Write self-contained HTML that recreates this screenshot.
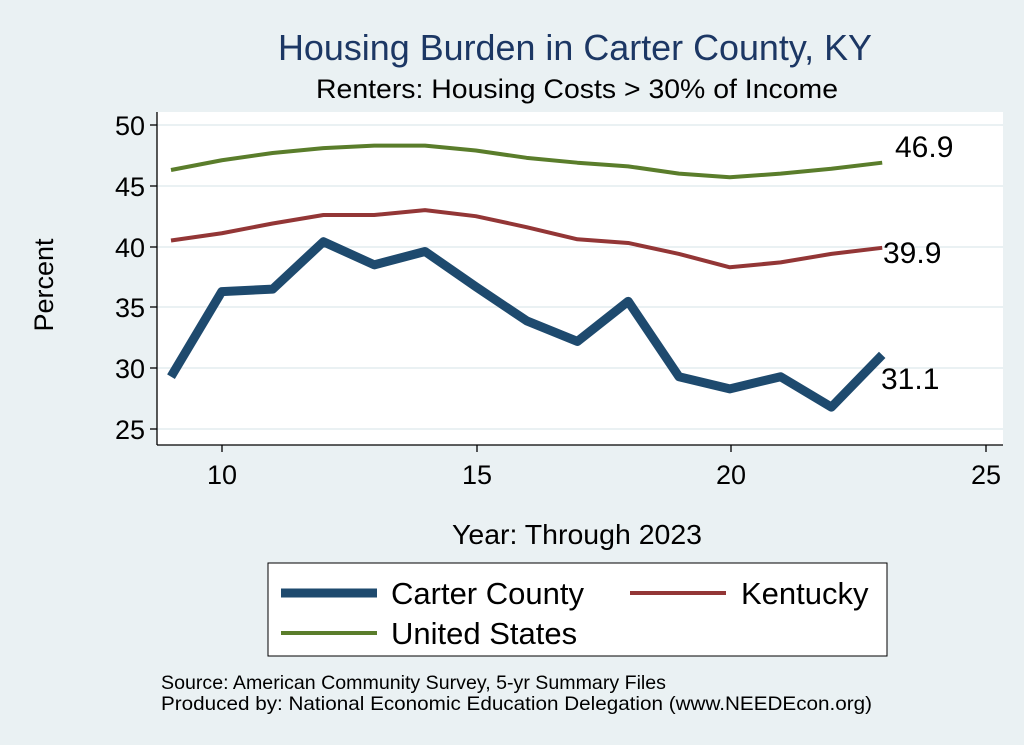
<!DOCTYPE html>
<html><head><style>
body{margin:0;background:#eaf1f3;}
svg{display:block;font-family:"Liberation Sans",sans-serif;}
</style></head><body>
<svg width="1024" height="745" viewBox="0 0 1024 745">
<rect width="1024" height="745" fill="#eaf1f3"/>
<text x="575" y="60" font-size="36" fill="#1c3764" text-anchor="middle" textLength="594" lengthAdjust="spacingAndGlyphs">Housing Burden in Carter County, KY</text>
<text x="577" y="98" font-size="27" fill="#000" text-anchor="middle" textLength="522" lengthAdjust="spacingAndGlyphs">Renters: Housing Costs &gt; 30% of Income</text>
<rect x="157" y="112" width="846" height="333" fill="#fff"/>
<g stroke="#eaf1f3" stroke-width="2">
<line x1="157" x2="1003" y1="125" y2="125"/><line x1="157" x2="1003" y1="186" y2="186"/>
<line x1="157" x2="1003" y1="247" y2="247"/><line x1="157" x2="1003" y1="307" y2="307"/>
<line x1="157" x2="1003" y1="368" y2="368"/><line x1="157" x2="1003" y1="429" y2="429"/>
</g>
<g stroke="#000" stroke-width="1.3">
<line x1="157" y1="112" x2="157" y2="445"/><line x1="157" y1="445" x2="1003" y2="445"/>
<line x1="150" x2="157" y1="125" y2="125"/><line x1="150" x2="157" y1="186" y2="186"/>
<line x1="150" x2="157" y1="247" y2="247"/><line x1="150" x2="157" y1="307" y2="307"/>
<line x1="150" x2="157" y1="368" y2="368"/><line x1="150" x2="157" y1="429" y2="429"/>
<line x1="222" x2="222" y1="445" y2="452"/><line x1="477" x2="477" y1="445" y2="452"/>
<line x1="731" x2="731" y1="445" y2="452"/><line x1="986" x2="986" y1="445" y2="452"/>
</g>
<g font-size="27" text-anchor="end">
<text x="145" y="135">50</text><text x="145" y="196">45</text><text x="145" y="257">40</text>
<text x="145" y="317">35</text><text x="145" y="378">30</text><text x="145" y="439">25</text>
</g>
<g font-size="27" text-anchor="middle">
<text x="222" y="484">10</text><text x="477" y="484">15</text><text x="731" y="484">20</text><text x="986" y="484">25</text>
</g>
<text x="577" y="544" font-size="28" text-anchor="middle" textLength="250" lengthAdjust="spacingAndGlyphs">Year: Through 2023</text>
<text transform="translate(53 285) rotate(-90)" font-size="27" text-anchor="middle">Percent</text>
<g transform="translate(171 733) scale(50.8 -12.16)" fill="none" stroke-linejoin="round">
<polyline vector-effect="non-scaling-stroke" stroke="#5a7d2b" stroke-width="4" points="0,46.3 1,47.1 2,47.7 3,48.1 4,48.3 5,48.3 6,47.9 7,47.3 8,46.9 9,46.6 10,46.0 11,45.7 12,46.0 13,46.4 14,46.9"/>
<polyline vector-effect="non-scaling-stroke" stroke="#933636" stroke-width="4" points="0,40.5 1,41.1 2,41.9 3,42.6 4,42.6 5,43.0 6,42.5 7,41.6 8,40.6 9,40.3 10,39.4 11,38.3 12,38.7 13,39.4 14,39.9"/>
<polyline vector-effect="non-scaling-stroke" stroke="#1e4a6e" stroke-width="9" points="0,29.3 1,36.3 2,36.5 3,40.4 4,38.5 5,39.6 6,36.7 7,33.9 8,32.2 9,35.5 10,29.3 11,28.3 12,29.3 13,26.8 14,31.1"/>
</g>
<g font-size="30">
<text x="895" y="157">46.9</text><text x="883" y="263">39.9</text><text x="881" y="389">31.1</text>
</g>
<rect x="268" y="563" width="619" height="93" fill="#fff" stroke="#000" stroke-width="1"/>
<line x1="281" x2="377" y1="593" y2="593" stroke="#1e4a6e" stroke-width="9"/>
<text x="391" y="604" font-size="31">Carter County</text>
<line x1="630" x2="726" y1="593" y2="593" stroke="#933636" stroke-width="4"/>
<text x="741" y="604" font-size="31">Kentucky</text>
<line x1="281" x2="377" y1="633" y2="633" stroke="#5a7d2b" stroke-width="4"/>
<text x="391" y="644" font-size="31">United States</text>
<text x="161" y="689" font-size="19.5" textLength="505" lengthAdjust="spacingAndGlyphs">Source: American Community Survey, 5-yr Summary Files</text>
<text x="161" y="710" font-size="19.5" textLength="711" lengthAdjust="spacingAndGlyphs">Produced by: National Economic Education Delegation (www.NEEDEcon.org)</text>
</svg>
</body></html>
